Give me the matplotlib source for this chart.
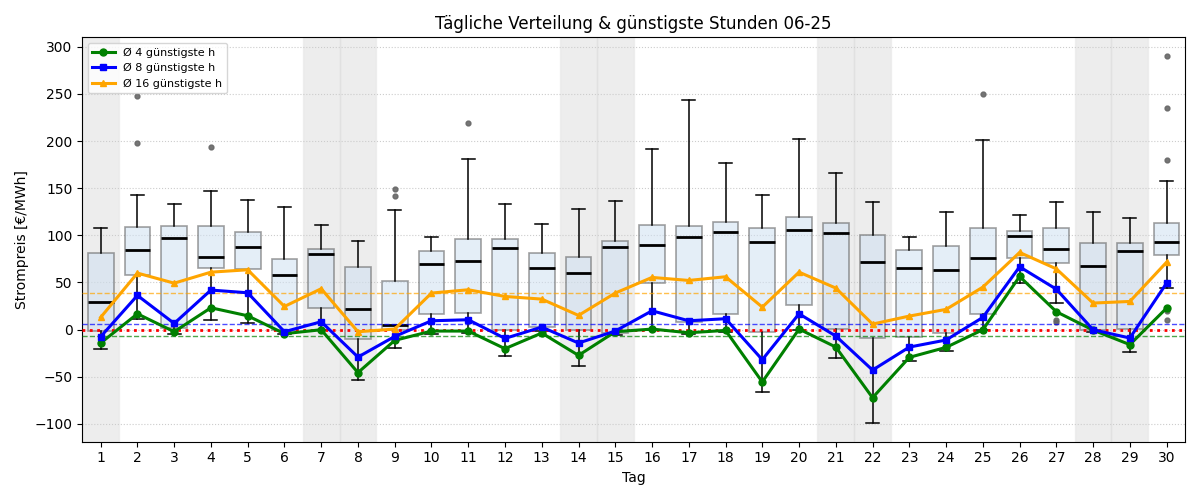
import numpy as np
import matplotlib
matplotlib.use('Agg')
import matplotlib.pyplot as plt

# Tage im Juni 2025
tage = list(range(1, 31))
wochenende = [1, 7, 8, 14, 15, 21, 22, 28, 29]

# Boxplot-Kennzahlen je Tag
whis_lo = [-20.3, 11.5, -4.8, 10.0, 6.9, -4.4, -0.2, -53.2, -19.6, -4.4,
           -3.7, -28.1, -2.0, -38.7, -5.5, 0.0, -4.4, -2.7, -66.3, 0.0,
           -30.2, -99.2, -33.4, -22.8, 0.0, 49.3, 28.1, -2.7, -23.5, 43.9]
q1 = [-1.6, 57.7, 1.2, 65.2, 64.1, 0.0, 22.8, -10.1, 0.0, 16.4,
      17.5, 0.0, 2.6, 0.0, -3.7, 49.3, 7.9, 16.4, -2.3, 25.9,
      0.5, -9.1, -7.6, -3.7, 16.7, 75.8, 70.5, 0.0, 0.5, 78.9]
median = [28.8, 83.9, 96.6, 77.2, 88.1, 58.1, 80.4, 22.0, 4.4, 69.8,
          72.9, 86.0, 64.8, 60.2, 87.1, 89.2, 97.7, 103.6, 93.4, 106.1,
          101.9, 71.8, 64.8, 63.7, 75.4, 98.8, 85.0, 66.9, 82.8, 93.4]
q3 = [81.0, 108.6, 109.7, 109.7, 103.3, 74.7, 85.3, 66.2, 51.0, 82.8,
      95.9, 95.9, 81.0, 76.8, 93.8, 110.7, 109.7, 113.9, 107.2, 119.1,
      112.8, 100.8, 84.2, 88.4, 107.6, 104.4, 107.6, 91.7, 91.7, 112.8]
whis_hi = [107.6, 142.5, 133.0, 147.0, 137.2, 129.8, 110.7, 93.8, 126.6, 98.0,
           180.7, 133.0, 111.8, 127.7, 136.5, 191.3, 244.0, 176.4, 142.5, 201.9,
           165.8, 135.1, 98.0, 124.8, 200.8, 121.3, 135.1, 124.5, 118.1, 157.4]
ausreisser = [[], [247.5, 197.5], [], [194.0], [], [], [], [], [148.9, 141.8], [],
              [218.7], [], [], [], [], [], [], [], [], [],
              [], [], [], [], [249.6], [], [10.0, 8.0], [], [], [290.0, 235.0, 180.0, 20.0, 10.0]]

# Mittelwert der günstigsten Stunden je Tag
avg4 = [-14.3, 16.7, -2.3, 23.1, 14.6, -4.4, -0.2, -45.7, -11.5, -1.6,
        -1.6, -20.3, -3.7, -27.4, -2.3, 0.5, -3.4, -0.9, -55.6, 0.5,
        -18.6, -72.3, -29.5, -18.9, -0.2, 56.3, 18.9, -0.6, -16.0, 22.8]
avg8 = [-7.6, 36.2, 6.5, 41.9, 39.0, -2.3, 8.3, -29.2, -7.3, 9.3,
        10.4, -9.4, 2.6, -14.3, -1.6, 19.9, 9.3, 11.5, -32.0, 16.7,
        -6.9, -43.0, -18.6, -11.1, 12.9, 66.6, 42.8, -0.2, -9.0, 49.3]
avg16 = [12.9, 59.9, 49.2, 60.9, 63.4, 24.5, 43.3, -2.3, 0.5, 38.7,
         42.2, 35.1, 32.3, 15.0, 38.7, 55.3, 52.1, 56.0, 23.8, 60.9,
         44.0, 5.8, 14.3, 21.4, 45.0, 81.8, 64.4, 28.1, 29.8, 71.5]

stats = []
for i in range(len(tage)):
    stats.append(dict(whislo=whis_lo[i], q1=q1[i], med=median[i], q3=q3[i],
                      whishi=whis_hi[i], fliers=ausreisser[i]))

fig, ax = plt.subplots(figsize=(12, 5), dpi=100)

for d in wochenende:
    ax.axvspan(d - 0.5, d + 0.5, facecolor='#bbbbbb', edgecolor='#d6d6d6',
               alpha=0.25, lw=1, zorder=0)

ax.bxp(stats, positions=tage, widths=0.7, patch_artist=True, showfliers=True,
       boxprops=dict(facecolor='#cfe0f1', edgecolor='#555555', alpha=0.55, linewidth=1.2),
       medianprops=dict(color='black', linewidth=2),
       whiskerprops=dict(color='black', linewidth=1.1),
       capprops=dict(color='black', linewidth=1.1),
       flierprops=dict(marker='o', markerfacecolor='#666666', markeredgecolor='#666666',
                       markersize=3.5, alpha=0.9))

ax.plot(tage, avg4, color='green', marker='o', markersize=5, linewidth=2.2,
        label='Ø 4 günstigste h', zorder=4)
ax.plot(tage, avg8, color='blue', marker='s', markersize=5, linewidth=2.2,
        label='Ø 8 günstigste h', zorder=4)
ax.plot(tage, avg16, color='orange', marker='^', markersize=5, linewidth=2.2,
        label='Ø 16 günstigste h', zorder=4)

ax.axhline(np.mean(avg4), color='green', linestyle='--', linewidth=1, alpha=0.7, zorder=3)
ax.axhline(np.mean(avg8), color='blue', linestyle='--', linewidth=1, alpha=0.7, zorder=3)
ax.axhline(np.mean(avg16), color='orange', linestyle='--', linewidth=1, alpha=0.7, zorder=3)
ax.axhline(0, color='red', linestyle=':', linewidth=2, zorder=3)

ax.set_xlim(0.5, 30.5)
ax.set_ylim(-119, 310)
ax.set_yticks(range(-100, 301, 50))
ax.set_xticks(tage)
ax.set_xticklabels([str(t) for t in tage])
ax.grid(axis='y', linestyle=':', color='#cccccc', linewidth=0.8)
ax.set_axisbelow(True)

ax.set_title('Tägliche Verteilung & günstigste Stunden 06-25')
ax.set_xlabel('Tag')
ax.set_ylabel('Strompreis [€/MWh]')
ax.legend(loc='upper left', fontsize=8)

fig.tight_layout()
fig.savefig('out.png')
